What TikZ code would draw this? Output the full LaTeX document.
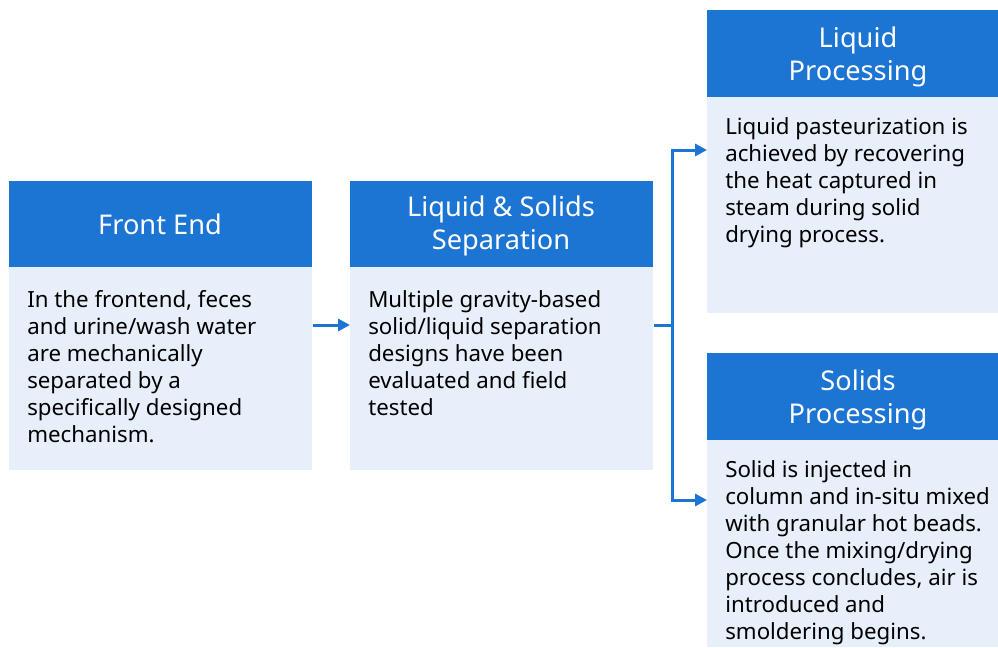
\documentclass[tikz,border=0pt]{standalone}
\usepackage{fontspec}
\setmainfont{Noto Sans}
\usetikzlibrary{arrows.meta,calc}
\definecolor{hdr}{HTML}{1C74D3}
\definecolor{bdy}{HTML}{E7EFFA}
\begin{document}
\begin{tikzpicture}[x=0.75pt,y=-0.75pt,
  hbox/.style={fill=hdr,draw=none,inner sep=0pt,anchor=north west},
  bbox/.style={fill=bdy,draw=none,inner sep=0pt,anchor=north west},
  htext/.style={text=white,align=center,font=\fontsize{20.4}{24.75}\selectfont,inner sep=0pt},
  btext/.style={text=black,align=left,font=\fontsize{16.7}{20.25}\selectfont,inner sep=0pt,anchor=north west},
  conn/.style={draw=hdr,line width=2.25pt,-{Triangle[length=9pt,width=9pt]}},
  connline/.style={draw=hdr,line width=2.25pt}]
\useasboundingbox (0,0) rectangle (998,647);
% Front End
\node[hbox,minimum width=303*0.75pt,minimum height=86*0.75pt] (feh) at (9,181) {};
\node[bbox,minimum width=303*0.75pt,minimum height=203*0.75pt] (feb) at (9,267) {};
\node[htext] (fet) at (160,224) {Front End};
\node[btext] (fex) at (27,290) {In the frontend, feces\\and urine/wash water\\are mechanically\\separated by a\\specifically designed\\mechanism.};
% Separation
\node[hbox,minimum width=303*0.75pt,minimum height=86*0.75pt] (sph) at (350,181) {};
\node[bbox,minimum width=303*0.75pt,minimum height=203*0.75pt] (spb) at (350,267) {};
\node[htext] (spt) at (501,226) {Liquid \& Solids\\Separation};
\node[btext] (spx) at (368,290) {Multiple gravity-based\\solid/liquid separation\\designs have been\\evaluated and field\\tested};
% Liquid Processing
\node[hbox,minimum width=291*0.75pt,minimum height=87*0.75pt] (lph) at (707,10) {};
\node[bbox,minimum width=291*0.75pt,minimum height=216*0.75pt] (lpb) at (707,97) {};
\node[htext] (lpt) at (858,57) {Liquid\\Processing};
\node[btext] (lpx) at (725,117) {Liquid pasteurization is\\achieved by recovering\\the heat captured in\\steam during solid\\drying process.};
% Solids Processing
\node[hbox,minimum width=291*0.75pt,minimum height=87*0.75pt] (soh) at (707,353) {};
\node[bbox,minimum width=291*0.75pt,minimum height=207*0.75pt] (sob) at (707,440) {};
\node[htext] (sot) at (858,400) {Solids\\Processing};
\node[btext] (sox) at (725,460) {Solid is injected in\\column and in-situ mixed\\with granular hot beads.\\Once the mixing/drying\\process concludes, air is\\introduced and\\smoldering begins.};
% connectors
\coordinate (ay) at (0,325);
\coordinate (split) at (672,325);
\coordinate (up) at (672,150);
\coordinate (dn) at (672,500);
\draw[conn] (feb.east |- ay) -- (spb.west |- ay);
\draw[connline] (spb.east |- ay) -- (split);
\draw[connline,line cap=rect] (up) -- (dn);
\draw[conn] (up) -- (lpb.west |- up);
\draw[conn] (dn) -- (sob.west |- dn);
\end{tikzpicture}
\end{document}
